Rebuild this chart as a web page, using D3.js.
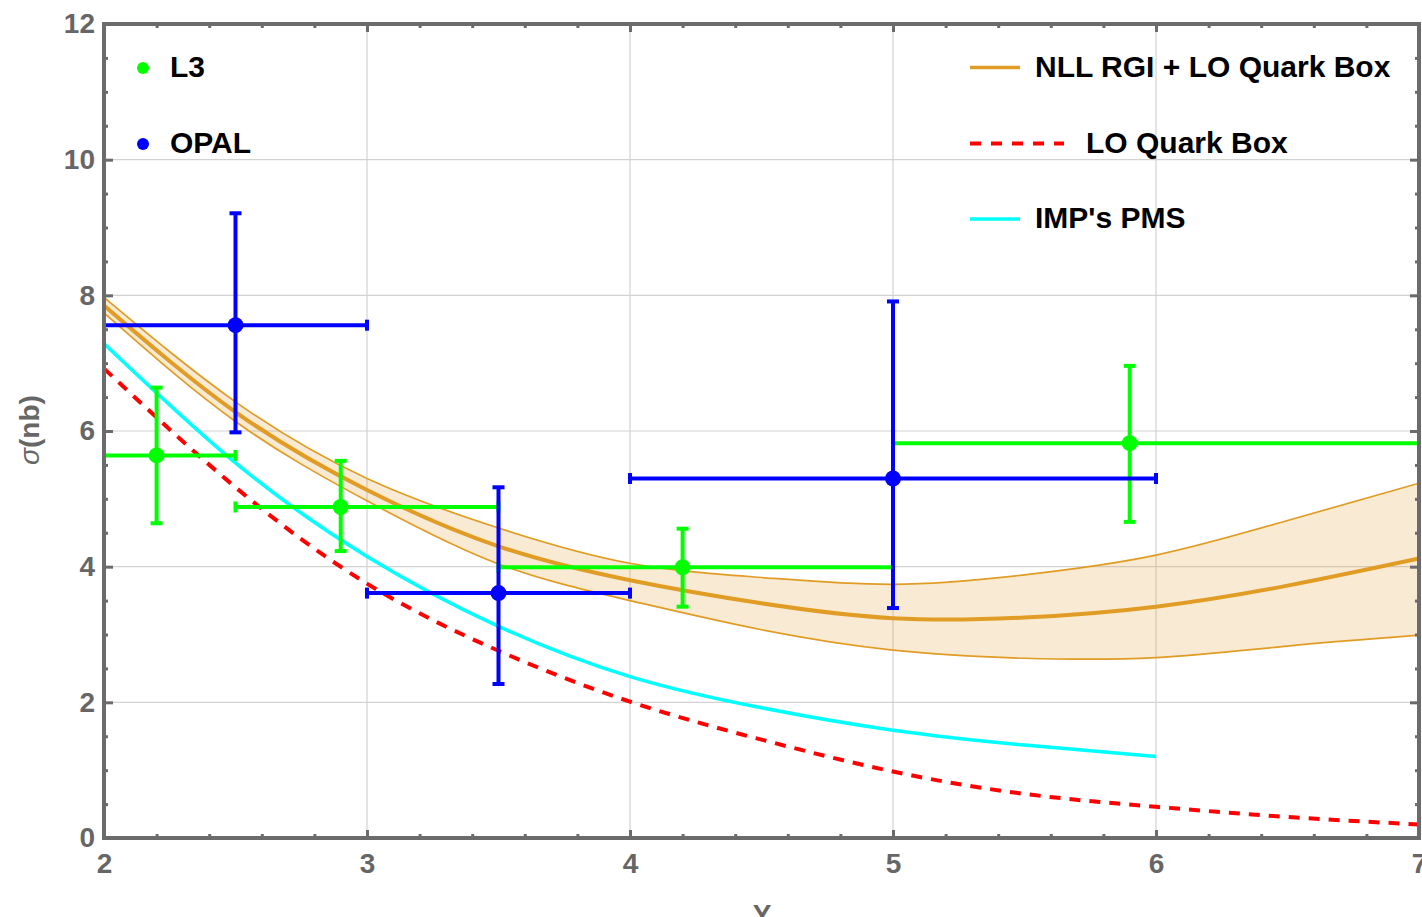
<!DOCTYPE html>
<html><head><meta charset="utf-8">
<script src="https://cdn.jsdelivr.net/npm/d3@7"></script>
<style>body{margin:0;background:#fff;overflow:hidden}svg{display:block}</style>
</head><body>
<svg id="c" width="1422" height="917"></svg>
<script>
// ---------- data ----------
const xTicks = [2, 3, 4, 5, 6, 7];
const yTicks = [0, 2, 4, 6, 8, 10, 12];

const l3X    = [2.2, 2.9, 4.2, 5.9];
const l3Y    = [5.64, 4.88, 3.99, 5.82];
const l3XLo  = [2.0, 2.5, 3.5, 5.0];
const l3XHi  = [2.5, 3.5, 5.0, 7.0];
const l3YLo  = [4.64, 4.23, 3.41, 4.66];
const l3YHi  = [6.64, 5.56, 4.56, 6.96];

const opalX   = [2.5, 3.5, 5.0];
const opalY   = [7.56, 3.61, 5.30];
const opalXLo = [2.0, 3.0, 4.0];
const opalXHi = [3.0, 4.0, 6.0];
const opalYLo = [5.98, 2.27, 3.39];
const opalYHi = [9.21, 5.17, 7.91];

const nllX    = [2.0, 2.5, 3.0, 3.5, 4.0, 4.5, 5.0, 5.5, 6.0, 6.5, 7.0];
const nllMid  = [7.85, 6.28, 5.13, 4.30, 3.80, 3.46, 3.24, 3.25, 3.41, 3.72, 4.12];
const nllHigh = [7.97, 6.43, 5.30, 4.57, 4.05, 3.84, 3.74, 3.88, 4.17, 4.68, 5.23];
const nllLow  = [7.74, 6.14, 4.97, 4.04, 3.50, 3.07, 2.77, 2.65, 2.66, 2.83, 2.99];

const loX = [2.0, 2.5, 3.0, 3.5, 4.0, 4.5, 5.0, 5.5, 6.0, 6.5, 7.0];
const loY = [6.92, 5.17, 3.75, 2.76, 2.01, 1.45, 0.98, 0.65, 0.46, 0.31, 0.20];

const pmsX = [2.0, 2.5, 3.0, 3.5, 4.0, 4.5, 5.0, 5.5, 6.0];
const pmsY = [7.29, 5.53, 4.15, 3.12, 2.38, 1.92, 1.59, 1.37, 1.20];

const legendLeft  = ["L3", "OPAL"];
const legendRight = ["NLL RGI + LO Quark Box", "LO Quark Box", "IMP's PMS"];

// ---------- setup ----------
const FONT = '"Liberation Sans", Arial, sans-serif';
const AX = '#6b6b6b', TXT = '#666666';
const ORANGE = '#E09C24';
const P = {l:104, r:1419, t:24, b:838};
const x = d3.scaleLinear().domain([2, 7]).range([P.l, P.r]);
const y = d3.scaleLinear().domain([0, 12]).range([P.b, P.t]);
const svg = d3.select('#c').style('font-family', FONT);

svg.append('defs').append('clipPath').attr('id', 'clip')
  .append('rect').attr('x', P.l).attr('y', P.t).attr('width', P.r - P.l).attr('height', P.b - P.t);

// grid
const grid = svg.append('g').attr('stroke', '#d2d2d2').attr('stroke-width', 1.2);
grid.selectAll('.gx').data(xTicks.filter(v => v > 2 && v < 7)).join('line')
  .attr('x1', d => x(d)).attr('x2', d => x(d)).attr('y1', P.t).attr('y2', P.b);
grid.selectAll('.gy').data(yTicks.filter(v => v > 0 && v < 12)).join('line')
  .attr('y1', d => y(d)).attr('y2', d => y(d)).attr('x1', P.l).attr('x2', P.r);

const plot = svg.append('g').attr('clip-path', 'url(#clip)');

// band
const nll = nllX.map((v, i) => ({x: v, m: nllMid[i], hi: nllHigh[i], lo: nllLow[i]}));
plot.append('path').datum(nll)
  .attr('d', d3.area().x(d => x(d.x)).y0(d => y(d.lo)).y1(d => y(d.hi)).curve(d3.curveNatural))
  .attr('fill', ORANGE).attr('fill-opacity', 0.2);
['hi', 'lo'].forEach(k => {
  plot.append('path').datum(nll)
    .attr('d', d3.line().x(d => x(d.x)).y(d => y(d[k])).curve(d3.curveNatural))
    .attr('fill', 'none').attr('stroke', ORANGE).attr('stroke-width', 1.7);
});
plot.append('path').datum(nll)
  .attr('d', d3.line().x(d => x(d.x)).y(d => y(d.m)).curve(d3.curveNatural))
  .attr('fill', 'none').attr('stroke', ORANGE).attr('stroke-width', 4);

// LO quark box
plot.append('path').datum(loX.map((v, i) => [v, loY[i]]))
  .attr('d', d3.line().x(d => x(d[0])).y(d => y(d[1])).curve(d3.curveNatural))
  .attr('fill', 'none').attr('stroke', '#ff0000').attr('stroke-width', 4).attr('stroke-dasharray', '11,9');

// PMS
plot.append('path').datum(pmsX.map((v, i) => [v, pmsY[i]]))
  .attr('d', d3.line().x(d => x(d[0])).y(d => y(d[1])).curve(d3.curveNatural))
  .attr('fill', 'none').attr('stroke', '#00ffff').attr('stroke-width', 3.5);

// error bars
function drawSeries(xs, ys, xlo, xhi, ylo, yhi, color) {
  const data = xs.map((v, i) => ({x: v, y: ys[i], xl: xlo[i], xh: xhi[i], yl: ylo[i], yh: yhi[i]}));
  const g = plot.append('g').attr('stroke', color).attr('stroke-width', 4);
  const cap = 6, capV = 5.5;
  data.forEach(d => {
    g.append('line').attr('x1', x(d.xl)).attr('x2', x(d.xh)).attr('y1', y(d.y)).attr('y2', y(d.y));
    g.append('line').attr('x1', x(d.x)).attr('x2', x(d.x)).attr('y1', y(d.yl)).attr('y2', y(d.yh));
    [d.xl, d.xh].forEach(v => g.append('line').attr('x1', x(v)).attr('x2', x(v)).attr('y1', y(d.y) - capV).attr('y2', y(d.y) + capV));
    [d.yl, d.yh].forEach(v => g.append('line').attr('x1', x(d.x) - cap).attr('x2', x(d.x) + cap).attr('y1', y(v)).attr('y2', y(v)));
  });
  plot.append('g').selectAll('circle').data(data).join('circle')
    .attr('cx', d => x(d.x)).attr('cy', d => y(d.y)).attr('r', 8).attr('fill', color);
}
drawSeries(l3X, l3Y, l3XLo, l3XHi, l3YLo, l3YHi, '#00ff00');
drawSeries(opalX, opalY, opalXLo, opalXHi, opalYLo, opalYHi, '#0000ff');

// axes ticks
const minorX = d3.range(2, 7.001, 0.2).map(v => +v.toFixed(2)).filter(v => !xTicks.includes(v));
const minorY = d3.range(0, 12.001, 0.5).filter(v => !yTicks.includes(v));
function styleAxis(g) {
  g.select('.domain').remove();
  g.selectAll('line').attr('stroke', AX).attr('stroke-width', 3);
  g.selectAll('text').attr('fill', TXT).attr('font-size', 28).attr('font-weight', 'bold').attr('font-family', FONT);
}
svg.append('g').attr('transform', `translate(0,${P.b})`)
  .call(d3.axisBottom(x).tickValues(xTicks).tickSizeInner(-8).tickSizeOuter(0).tickPadding(15).tickFormat(d3.format('d'))).call(styleAxis);
svg.append('g').attr('transform', `translate(0,${P.b})`)
  .call(d3.axisBottom(x).tickValues(minorX).tickSizeInner(-4).tickSizeOuter(0).tickFormat('')).call(styleAxis);
svg.append('g').attr('transform', `translate(0,${P.t})`)
  .call(d3.axisTop(x).tickValues(xTicks).tickSizeInner(-8).tickSizeOuter(0).tickFormat('')).call(styleAxis);
svg.append('g').attr('transform', `translate(0,${P.t})`)
  .call(d3.axisTop(x).tickValues(minorX).tickSizeInner(-4).tickSizeOuter(0).tickFormat('')).call(styleAxis);
svg.append('g').attr('transform', `translate(${P.l},0)`)
  .call(d3.axisLeft(y).tickValues(yTicks).tickSizeInner(-9).tickSizeOuter(0).tickPadding(9).tickFormat(d3.format('d'))).call(styleAxis);
svg.append('g').attr('transform', `translate(${P.l},0)`)
  .call(d3.axisLeft(y).tickValues(minorY).tickSizeInner(-4).tickSizeOuter(0).tickFormat('')).call(styleAxis);
svg.append('g').attr('transform', `translate(${P.r},0)`)
  .call(d3.axisRight(y).tickValues(yTicks).tickSizeInner(-9).tickSizeOuter(0).tickFormat('')).call(styleAxis);
svg.append('g').attr('transform', `translate(${P.r},0)`)
  .call(d3.axisRight(y).tickValues(minorY).tickSizeInner(-4).tickSizeOuter(0).tickFormat('')).call(styleAxis);

// frame
svg.append('rect').attr('x', P.l).attr('y', P.t).attr('width', P.r - P.l).attr('height', P.b - P.t)
  .attr('fill', 'none').attr('stroke', AX).attr('stroke-width', 4);

// axis labels
const yl = svg.append('text').attr('transform', 'translate(39,430) rotate(-90)')
  .attr('text-anchor', 'middle').attr('fill', TXT).attr('font-size', 28).attr('font-weight', 'bold');
yl.append('tspan').attr('font-style', 'italic').attr('font-weight', 'normal').text('σ');
yl.append('tspan').text('(nb)');
svg.append('text').attr('x', 762).attr('y', 924).attr('text-anchor', 'middle')
  .attr('fill', TXT).attr('font-size', 28).attr('font-weight', 'bold').text('Y');

// legends
const lg = svg.append('g').attr('font-size', 30).attr('font-weight', 'bold').attr('fill', '#000');
const leftCols = ['#00ff00', '#0000ff'];
const leftY = [68, 144];
legendLeft.forEach((t, i) => {
  lg.append('circle').attr('cx', 143).attr('cy', leftY[i]).attr('r', 6).attr('fill', leftCols[i]);
  lg.append('text').attr('x', 170).attr('y', leftY[i] + 9).text(t);
});
const rY = [67.5, 143.5, 219];
lg.append('line').attr('x1', 970).attr('x2', 1020).attr('y1', rY[0]).attr('y2', rY[0]).attr('stroke', ORANGE).attr('stroke-width', 3.5);
lg.append('text').attr('x', 1035).attr('y', rY[0] + 9).text(legendRight[0]);
lg.append('line').attr('x1', 970).attr('x2', 1064).attr('y1', rY[1]).attr('y2', rY[1]).attr('stroke', '#ff0000').attr('stroke-width', 4).attr('stroke-dasharray', '11,10');
lg.append('text').attr('x', 1086).attr('y', rY[1] + 9).text(legendRight[1]);
lg.append('line').attr('x1', 970).attr('x2', 1020).attr('y1', rY[2]).attr('y2', rY[2]).attr('stroke', '#00ffff').attr('stroke-width', 3.5);
lg.append('text').attr('x', 1035).attr('y', rY[2] + 9).text(legendRight[2]);
</script>
</body></html>
